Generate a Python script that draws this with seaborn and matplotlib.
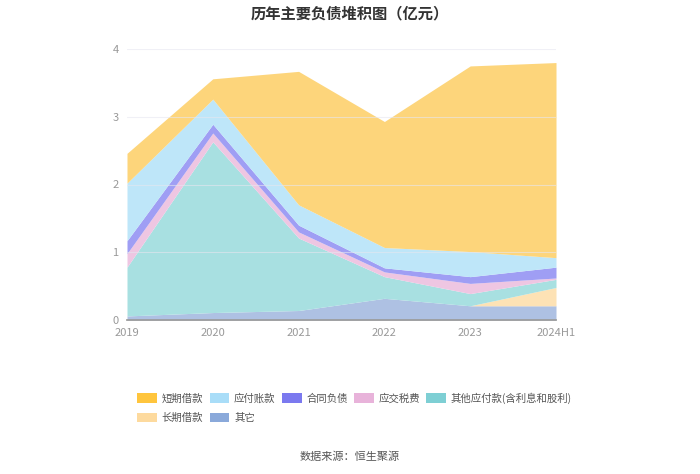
import matplotlib
matplotlib.use("Agg")
import matplotlib.pyplot as plt
from matplotlib.patches import Patch
import seaborn as sns
import pandas as pd

years = ["2019", "2020", "2021", "2022", "2023", "2024H1"]
other = [0.06, 0.11, 0.14, 0.32, 0.21, 0.21]           # 其它
long_loan = [0.0, 0.0, 0.0, 0.0, 0.0, 0.27]            # 长期借款
other_payable = [0.72, 2.52, 1.07, 0.32, 0.18, 0.12]   # 其他应付款
tax_payable = [0.20, 0.13, 0.09, 0.07, 0.15, 0.02]     # 应交税费
contract_liab = [0.19, 0.13, 0.10, 0.06, 0.10, 0.16]   # 合同负债
accounts_payable = [0.85, 0.37, 0.30, 0.30, 0.37, 0.14]  # 应付账款
short_loan = [0.44, 0.30, 1.97, 1.86, 2.74, 2.88]      # 短期借款

series_names = ["其它", "长期借款", "其他应付款(含利息和股利)", "应交税费", "合同负债", "应付账款", "短期借款"]
df = pd.DataFrame({
    "年份": years,
    "其它": other,
    "长期借款": long_loan,
    "其他应付款(含利息和股利)": other_payable,
    "应交税费": tax_payable,
    "合同负债": contract_liab,
    "应付账款": accounts_payable,
    "短期借款": short_loan,
})

area_colors = {
    "其它": "#AEC1E3",
    "长期借款": "#FDE2B5",
    "其他应付款(含利息和股利)": "#A8E0E1",
    "应交税费": "#EEC6E2",
    "合同负债": "#9F9EF4",
    "应付账款": "#BEE6F9",
    "短期借款": "#FDD57B",
}
legend_colors = {
    "短期借款": "#FFC53D",
    "应付账款": "#A9DDF8",
    "合同负债": "#7B79EF",
    "应交税费": "#E8B3DA",
    "其他应付款(含利息和股利)": "#7ECFD4",
    "长期借款": "#FDDA9E",
    "其它": "#8AA9DA",
}

sns.set_theme(style="white")
plt.rcParams["font.family"] = ["Noto Sans CJK SC", "DejaVu Sans"]

fig = plt.figure(figsize=(7.0, 4.74), dpi=100)
ax = fig.add_axes([127 / 700, 1 - 320 / 474, (556 - 127) / 700, (320 - 49) / 474])

x = list(range(len(years)))
ax.stackplot(x, [df[n] for n in series_names],
             colors=[area_colors[n] for n in series_names], linewidth=0)

ax.set_xlim(0, len(years) - 1)
ax.set_ylim(0, 4)
ax.set_yticks([0, 1, 2, 3, 4])
ax.set_xticks(x)
ax.set_xticklabels(years)
ax.tick_params(axis="both", colors="#999999", labelsize=8, length=0)
ax.tick_params(axis="x", length=4, color="#999999", pad=2)
ax.tick_params(axis="y", pad=6)
for s in ["top", "right", "left"]:
    ax.spines[s].set_visible(False)
ax.spines["bottom"].set_color("#999999")
ax.grid(axis="y", color="#E6E6F0", linewidth=0.8)
ax.set_axisbelow(False)
for g in ax.get_ygridlines():
    g.set_zorder(0.5)
    g.set_alpha(0.6)
ax.set_xlabel("")
ax.set_ylabel("")

fig.text(0.5, 1 - 13 / 474, "历年主要负债堆积图（亿元）", ha="center", va="center",
         fontsize=11, fontweight="bold", color="#333333")

order = ["短期借款", "长期借款", "应付账款", "其它", "合同负债", None,
         "应交税费", None, "其他应付款(含利息和股利)", None]
handles, labels = [], []
for n in order:
    if n is None:
        handles.append(Patch(facecolor="none", edgecolor="none"))
        labels.append("")
    else:
        handles.append(Patch(facecolor=legend_colors[n], edgecolor="none"))
        labels.append(n)
fig.legend(handles, labels, ncol=5, loc="upper left",
           bbox_to_anchor=(128 / 700, 1 - 383 / 474), frameon=False,
           fontsize=7.5, handlelength=1.9, handleheight=1.0, handletextpad=0.45,
           columnspacing=0.6, labelspacing=0.85, labelcolor="#555555")

fig.text(0.5, 1 - 457 / 474, "数据来源：恒生聚源", ha="center", va="center",
         fontsize=8, color="#555555")

fig.savefig("out.png", dpi=100)
